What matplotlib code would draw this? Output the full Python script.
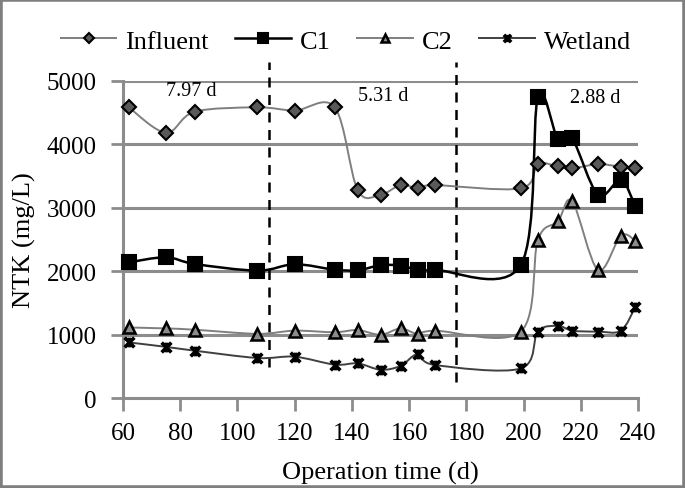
import numpy as np
import matplotlib
matplotlib.use('Agg')
import matplotlib.pyplot as plt
from matplotlib.path import Path
from matplotlib.patches import PathPatch, Rectangle

plt.rcParams['font.family'] = ['Liberation Serif', 'DejaVu Serif']

'''
Data read off the reference chart
'''
days = [62, 75, 85, 107, 120, 134, 142, 150, 157, 163, 169, 199, 205, 212, 217, 226, 234, 239]

influent = [4580, 4180, 4510, 4580, 4530, 4580, 3280, 3205, 3355, 3310, 3355, 3305,
            3685, 3650, 3620, 3685, 3645, 3625]
c1 = [2140, 2220, 2115, 2010, 2110, 2025, 2015, 2095, 2090, 2020, 2020, 2095,
      4735, 4080, 4090, 3205, 3435, 3030]
c2 = [1115, 1100, 1080, 1015, 1065, 1040, 1075, 1000, 1100, 1012, 1064, 1050,
      2490, 2785, 3100, 2020, 2560, 2480]
wetland = [880, 810, 750, 635, 655, 530, 550, 450, 510, 695, 525, 470,
           1050, 1140, 1065, 1050, 1065, 1430]

phase_bounds = [111, 176.5]
phase_tops = [5300, 5300]
phase_bottoms = [490, 250]
phase_labels = ['7.97 d', '5.31 d', '2.88 d']
phase_label_x = [84, 151, 225]
phase_label_y = [4840, 4760, 4730]

# Excel "star" marker: x with a vertical bar
star = Path([(-1, -1), (1, 1), (-1, 1), (1, -1), (0, -1), (0, 1)],
            [Path.MOVETO, Path.LINETO, Path.MOVETO, Path.LINETO, Path.MOVETO, Path.LINETO])


def smooth_path(x, y):
    '''Bezier path through the points, like Excel smoothed lines.'''
    pts = np.column_stack([x, y]).astype(float)
    verts = [pts[0]]
    codes = [Path.MOVETO]
    n = len(pts)
    for i in range(n - 1):
        p0 = pts[i - 1] if i > 0 else pts[i]
        p1 = pts[i]
        p2 = pts[i + 1]
        p3 = pts[i + 2] if i + 2 < n else pts[i + 1]
        verts += [p1 + (p2 - p0) / 6.0, p2 - (p3 - p1) / 6.0, p2]
        codes += [Path.CURVE4] * 3
    return Path(verts, codes)


series = [
    ('Influent', influent, '#7f7f7f', 'D', '#595959', 7, 1.4, 1.5),
    ('C1', c1, 'black', 's', 'black', 9.5, 1.8, 1.5),
    ('C2', c2, '#7f7f7f', '^', '#8c8c8c', 8.5, 1.4, 1.8),
    ('Wetland', wetland, '#404040', star, 'black', 7, 1.4, 2.6),
]

fig = plt.figure(figsize=(6.85, 4.89), dpi=100)
ax = fig.add_axes([0.1796, 0.1834, 0.7518, 0.6496])

for y in [1000, 2000, 3000, 4000, 5000]:
    ax.axhline(y, color='#8c8c8c', linewidth=2.2, zorder=1)

for name, vals, col, mk, fc, ms, lw, mew in series:
    ax.add_patch(PathPatch(smooth_path(days, vals), facecolor='none', edgecolor=col,
                           linewidth=lw, zorder=3))
    ax.plot(days, vals, linestyle='none', marker=mk, markersize=ms,
            markerfacecolor=fc, markeredgecolor='black',
            markeredgewidth=mew, zorder=4, clip_on=False)
    ax.plot([], [], color=col, linewidth=lw, marker=mk, markersize=ms * 0.75,
            markerfacecolor=fc, markeredgecolor='black',
            markeredgewidth=mew, label=name)

for xb, top, bot in zip(phase_bounds, phase_tops, phase_bottoms):
    ax.plot([xb, xb], [bot, top], color='black', linestyle=(0, (4, 3)),
            linewidth=1.8, clip_on=False, zorder=2)

for lab, lx, ly in zip(phase_labels, phase_label_x, phase_label_y):
    ax.text(lx, ly, lab, fontsize=14.5, ha='center', va='center')

ax.set_xlim(60, 240)
ax.set_ylim(0, 5000)
ax.set_xticks(range(60, 241, 20))
ax.set_yticks(range(0, 5001, 1000))
ax.tick_params(axis='both', labelsize=18, color='#8c8c8c', width=2, length=9)
ax.tick_params(axis='y', pad=10)
ax.tick_params(axis='x', pad=8)
for s in ['top', 'right']:
    ax.spines[s].set_visible(False)
for s in ['left', 'bottom']:
    ax.spines[s].set_color('#8c8c8c')
    ax.spines[s].set_linewidth(2.2)
ax.set_xlabel('Operation time (d)', fontsize=19, labelpad=12)
ax.set_ylabel('NTK (mg/L)', fontsize=19, labelpad=8)

ax.legend(loc='center', bbox_to_anchor=(0.433, 1.125), ncol=4, frameon=False,
          fontsize=19, handlelength=2.1, handletextpad=0.35, columnspacing=1.0,
          borderaxespad=0, borderpad=0)

fig.patches.append(Rectangle((0, 0), 1, 1, transform=fig.transFigure, fill=False,
                             edgecolor='#7f7f7f', linewidth=4))

fig.savefig('out.png', dpi=100)
